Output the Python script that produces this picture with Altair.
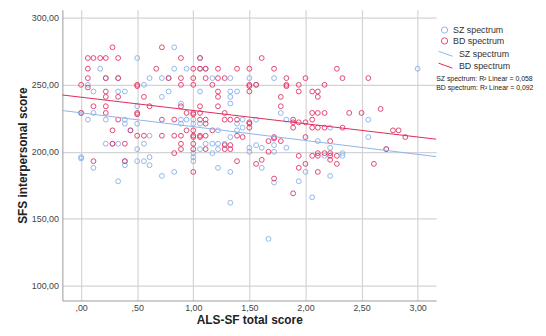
import altair as alt
import pandas as pd

# ---- data ----
groups = ["SZ spectrum", "BD spectrum"]
fit_groups = ["SZ spectrum (fit)", "BD spectrum (fit)"]
point_colors = ["#7eaae8", "#e0285c"]
line_colors = ["#8cb4ec", "#e0285c"]
r2_lines = ["SZ spectrum: R² Linear = 0,058", "BD spectrum: R² Linear = 0,092"]
x_ticks = [0.0, 0.5, 1.0, 1.5, 2.0, 2.5, 3.0]
y_ticks = [100, 150, 200, 250, 300]

# fit lines read at the left and right edges of the plot area
fit_x = [-0.167, 3.165]
sz_fit_y = [230.8, 196.4]
bd_fit_y = [242.4, 209.4]

sz_x = [0.83,
        0.50, 1.06,
        0.17, 0.83, 0.94, 1.06, 1.11, 3.00,
        0.22, 0.33, 0.61, 0.72, 0.78, 1.17, 1.33, 1.50, 1.72,
        0.06, 0.56, 1.56,
        0.11, 0.33, 0.39, 0.78, 1.06, 1.33, 1.39,
        0.72, 1.33,
        0.89, 1.33,
        0.50,
        0.00, 0.11, 1.78,
        0.06, 0.22, 0.39, 0.89, 0.94, 1.00, 1.44, 1.56, 1.83, 2.56,
        0.39, 0.50, 0.89, 1.00, 1.06, 1.39,
        1.44, 2.22,
        0.44, 1.22, 1.39,
        0.61, 1.33, 2.56,
        2.11,
        0.22, 0.28, 0.33, 0.56, 1.11, 1.17, 1.22, 1.28,
        1.56, 1.72,
        1.50, 1.61, 1.83, 2.22,
        0.50, 1.06, 1.22, 2.72,
        1.50, 1.72,
        1.00, 1.17, 2.33,
        2.17, 2.33,
        0.00, 0.00, 0.61, 1.00,
        0.39, 0.50, 0.56, 1.00,
        0.39, 0.61,
        0.11, 1.22, 1.61,
        0.83, 1.33, 2.00,
        0.72, 2.22,
        0.33, 1.94,
        1.72,
        2.06,
        1.33,
        1.67]
sz_y = [278,
        270, 270,
        262, 262, 262, 262, 262, 262,
        255, 255, 255, 255, 255, 255, 255, 255, 255,
        250, 250, 250,
        245, 245, 245, 245, 245, 245, 245,
        241, 241,
        236, 236,
        234,
        229, 229, 229,
        224, 224, 224, 224, 224, 224, 224, 224, 224, 224,
        221, 221, 221, 221, 221, 221,
        218, 218,
        216, 216, 216,
        212, 211, 211,
        208,
        206, 206, 206, 206, 206, 206, 206, 206,
        205, 205,
        203, 203, 203, 203,
        202, 202, 202, 202,
        200, 200,
        199, 199, 199,
        197, 197,
        196, 195, 196, 196,
        193, 193, 193, 193,
        190, 190,
        188, 188, 188,
        185, 185, 185,
        182, 182,
        178, 178,
        177,
        166,
        162,
        135]

bd_x = [0.28, 0.72,
        0.06, 0.11, 0.17, 0.22, 0.33, 0.89, 1.06, 1.61,
        0.06, 0.67, 1.00, 1.06, 1.11, 1.22, 1.39, 1.50, 1.72, 2.28,
        0.06, 0.22, 0.33, 0.78, 0.89, 1.00, 1.11, 1.22, 1.28, 1.83, 2.00, 2.33, 2.56,
        0.00, 0.06, 0.50, 0.50, 0.89, 1.00, 1.17, 1.50, 1.50, 1.56, 1.83, 1.83, 1.94, 2.17,
        0.22, 1.22, 1.50, 1.94, 2.06, 2.11,
        0.22, 0.33, 0.56, 1.22, 1.78, 2.11,
        0.11, 0.22, 0.61, 0.89, 1.06, 1.22, 1.78, 2.67,
        0.00, 0.22, 0.50, 0.50, 0.94, 1.00, 1.00, 1.06, 1.28, 2.06, 2.11, 2.17, 2.39, 2.50,
        0.33, 0.72, 0.83, 1.06, 1.11, 1.28, 1.33, 1.39, 1.89, 2.06,
        1.50, 1.50, 1.89, 1.94, 2.00, 1.11,
        1.50, 1.89, 2.06, 2.11, 2.17, 2.33, 2.78, 2.83,
        0.28, 0.44, 0.94, 1.00, 1.17,
        0.50, 0.56, 0.72, 0.83, 0.89, 1.00, 1.00, 1.06, 1.06, 1.11, 1.39, 1.44, 1.72, 1.72, 2.00, 2.89,
        1.28, 1.33,
        1.67, 1.78, 2.22,
        0.28, 0.39, 0.89, 1.00,
        0.89, 1.00, 1.11, 1.28, 1.33, 2.72,
        1.67,
        0.83, 2.11, 2.17, 2.22,
        1.94, 2.06, 2.11, 2.22, 2.28,
        1.61, 2.22,
        0.11, 0.39, 1.39,
        1.56, 2.00, 2.28, 2.61,
        1.94,
        1.00, 2.11,
        1.72,
        1.89]
bd_y = [278, 278,
        270, 270, 270, 270, 270, 270, 270, 270,
        262, 262, 262, 262, 262, 262, 262, 262, 262, 262,
        255, 255, 255, 255, 255, 255, 255, 255, 255, 255, 255, 255, 255,
        250, 248, 250, 249, 250, 250, 250, 250, 249, 250, 250, 249, 250, 250,
        245, 245, 245, 245, 245, 245,
        241, 241, 241, 241, 241, 241,
        234, 234, 234, 234, 234, 234, 234, 232,
        229, 229, 229, 228, 229, 229, 228, 229, 229, 229, 229, 229, 229, 229,
        224, 224, 224, 224, 224, 224, 224, 224, 224, 224,
        222, 221, 222, 222, 222, 221,
        218, 218, 218, 218, 218, 218, 216, 216,
        216, 216, 216, 216, 216,
        212, 212, 212, 212, 212, 212, 211, 212, 211, 212, 212, 211, 211, 210, 211, 211,
        205, 205,
        208, 208, 208,
        206, 206, 206, 206,
        202, 202, 202, 202, 202, 202,
        200,
        199, 199, 199, 199,
        197, 197, 197, 197, 197,
        194, 194,
        193, 193, 193,
        191, 191, 191, 191,
        188,
        185, 185,
        180,
        169]

df = pd.DataFrame({
    "x": sz_x + bd_x,
    "y": sz_y + bd_y,
    "series": [groups[0]] * len(sz_x) + [groups[1]] * len(bd_x),
})

fit_df = pd.DataFrame({
    "x": fit_x + fit_x,
    "y": sz_fit_y + bd_fit_y,
    "fit": [fit_groups[0]] * 2 + [fit_groups[1]] * 2,
})

x_dom = [-0.167, 3.165]
y_dom = [89, 306]
xscale = alt.Scale(domain=x_dom, nice=False, zero=False)
yscale = alt.Scale(domain=y_dom, nice=False, zero=False)

x_label_expr = ("datum.value < 1 ? replace(format(datum.value, '.2f'), '0.', ',') "
                ": replace(format(datum.value, '.2f'), '.', ',')")
y_label_expr = "replace(format(datum.value, '.2f'), '.', ',')"

x_axis = alt.Axis(values=x_ticks, labelExpr=x_label_expr, title="ALS-SF total score",
                  ticks=False, labelPadding=3, titlePadding=2, grid=True)
y_axis = alt.Axis(values=y_ticks, labelExpr=y_label_expr, title="SFS interpersonal score",
                  ticks=False, labelPadding=4, titlePadding=2, grid=True)

points = alt.Chart(df).mark_point(filled=False, size=24, strokeWidth=1, opacity=0.85).encode(
    x=alt.X("x:Q", scale=xscale, axis=x_axis),
    y=alt.Y("y:Q", scale=yscale, axis=y_axis),
    color=alt.Color("series:N", scale=alt.Scale(domain=groups, range=point_colors),
                    legend=alt.Legend(title=None, orient="none", legendX=382, legendY=16,
                                      symbolType="circle", symbolSize=40, symbolStrokeWidth=1,
                                      labelFontSize=9, labelColor="#333333", labelOffset=4,
                                      rowPadding=0)),
)

lines = alt.Chart(fit_df).mark_line(strokeWidth=1).encode(
    x=alt.X("x:Q", scale=xscale),
    y=alt.Y("y:Q", scale=yscale),
    stroke=alt.Stroke("fit:N", scale=alt.Scale(domain=fit_groups, range=line_colors),
                      legend=alt.Legend(title=None, orient="none", legendX=382, legendY=39,
                                        symbolType="M-1.4,-0.5L1.4,0.5", symbolSize=100,
                                        symbolStrokeWidth=1, labelFontSize=9,
                                        labelColor="#333333", labelOffset=8, rowPadding=1,
                                        labelExpr="replace(datum.label, ' (fit)', '')")),
)

r2_text = alt.Chart(pd.DataFrame({"t": ["\n".join(r2_lines)]})).mark_text(
    align="left", baseline="middle", fontSize=7, lineBreak="\n", lineHeight=9.5,
    color="#222222"
).encode(
    x=alt.value(378), y=alt.value(70), text="t:N"
)

chart = alt.layer(points, lines, r2_text).properties(
    width=378, height=294,
    autosize=alt.AutoSizeParams(type="none"),
    padding={"left": 55, "top": 0, "right": 103, "bottom": 26},
).configure(
    font="Liberation Sans",
).configure_view(
    stroke=None,
).configure_axis(
    gridColor="#d4d4d4", gridWidth=1.2,
    domainColor="#9a9a9a", domainWidth=1,
    labelFontSize=9, labelColor="#444444",
    titleFontSize=12, titleFontWeight="bold", titleColor="#222222",
)

chart.save("out.html", embed_options={"renderer": "svg", "actions": False})
